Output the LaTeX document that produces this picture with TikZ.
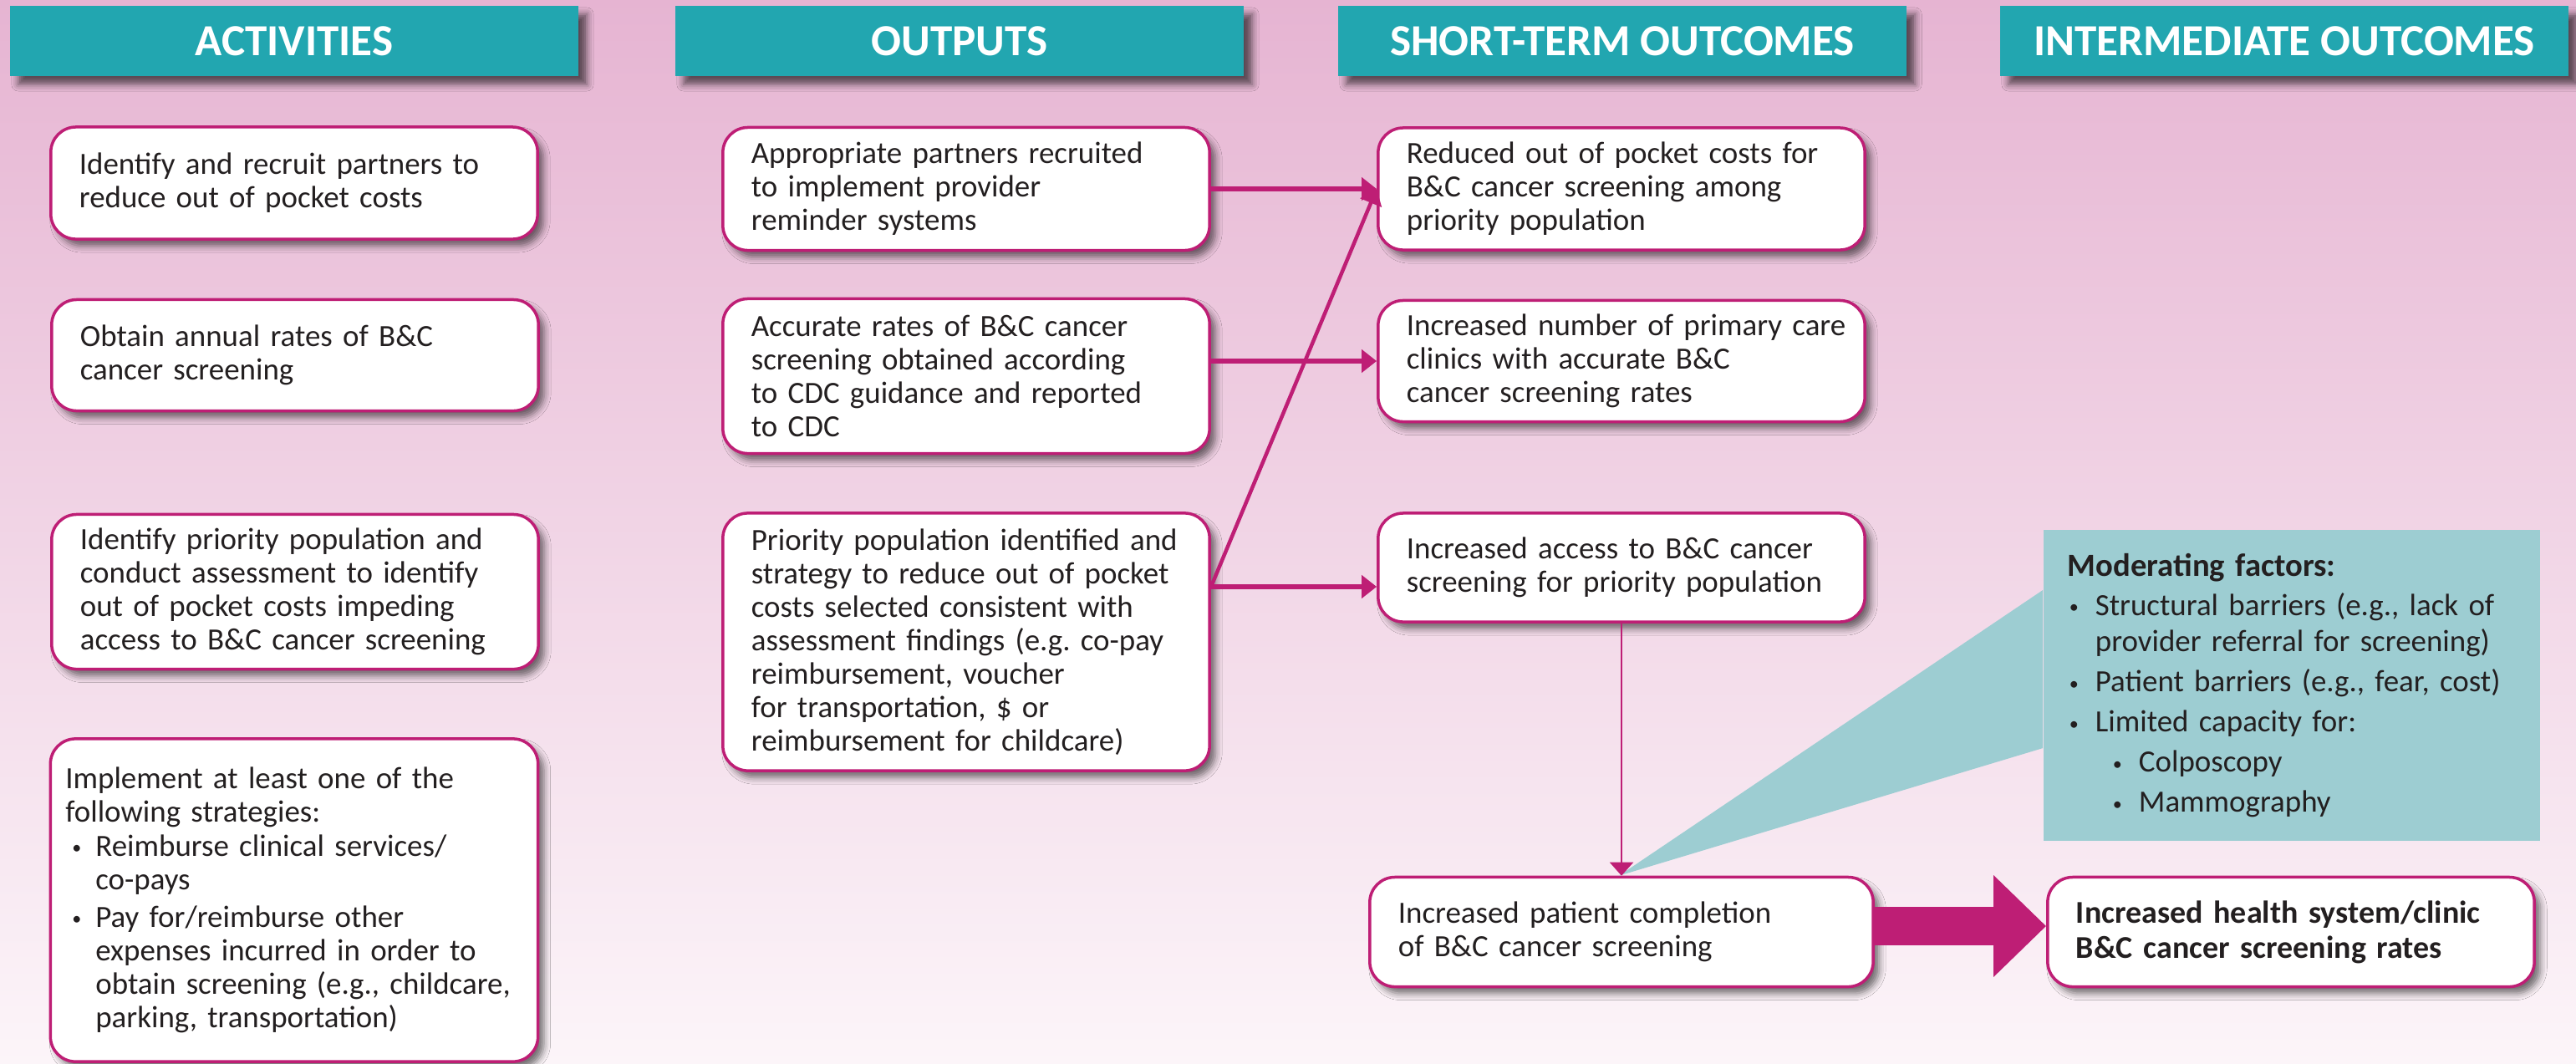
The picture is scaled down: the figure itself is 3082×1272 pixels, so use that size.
\documentclass[tikz,border=0pt]{standalone}
\usepackage{fontspec}
\setmainfont{Carlito}
\usepackage{enumitem}
\usetikzlibrary{arrows.meta, shadows.blur}
\definecolor{berry}{RGB}{190,30,117}
\definecolor{tealhead}{RGB}{34,166,176}
\definecolor{modteal}{RGB}{157,205,210}
\definecolor{bgtop}{RGB}{230,180,210}
\definecolor{bgbot}{RGB}{252,245,249}
\definecolor{ink}{RGB}{35,31,32}
\newcommand{\smallbul}{\raisebox{0.15ex}{\scalebox{0.6}{\textbullet}}}
\tikzset{
    head/.style={fill=tealhead, text=white, minimum width=6.8cm, minimum height=0.84cm, font=\fontsize{15.1}{16}\selectfont\bfseries,
        blur shadow={shadow xshift=0.1cm, shadow yshift=-0.1cm, shadow blur radius=0.08cm, shadow opacity=60}}, % column headers
    box/.style={draw=berry, line width=0.035cm, fill=white, rounded corners=0.3cm, align=left, text=ink, inner xsep=0.34cm, inner ysep=0pt,
        font=\fontsize{10.5}{11.4}\selectfont,
        blur shadow={shadow xshift=0.07cm, shadow yshift=-0.08cm, shadow blur radius=0.08cm, shadow opacity=55}}, % white boxes
    boxw/.style={text width=5.42cm, inner xsep=0.2cm, execute at begin node={\leftskip=0.14cm}}, % usual box width
    modbox/.style={fill=modteal, text=ink, align=left, text width=5.36cm, inner xsep=0.29cm, minimum height=3.72cm,
        font=\fontsize{10.5}{12.5}\selectfont}, % moderating factors
    flow/.style={draw=berry, line width=0.06cm, -{Triangle[length=0.18cm, width=0.27cm]}},
    thin flow/.style={draw=berry, line width=0.02cm, -{Triangle[length=0.16cm, width=0.28cm]}},
    fat flow/.style={draw=berry, line width=0.46cm, -{Triangle[length=0.63cm, width=1.18cm]}}
}

\begin{document}
\begin{tikzpicture}[x=0.01cm, y=-0.01cm]
    \shade[top color=bgtop, bottom color=bgbot] (0,0) rectangle (3082,1272);
    \useasboundingbox (0,0) rectangle (3082,1272);

    % headers
    \node[head] (hact) at (352,49) {ACTIVITIES};
    \node[head] (hout) at (1148,49) {OUTPUTS};
    \node[head] (hst) at (1941,49) {SHORT-TERM OUTCOMES};
    \node[head] (hio) at (2733,49) {INTERMEDIATE OUTCOMES};

    % activities
    \node[box, boxw, minimum height=1.34cm] (act1) at (352,219) {Identify and recruit partners to\\reduce out of pocket costs};
    \node[box, boxw, minimum height=1.33cm] (act2) at (353,425) {Obtain annual rates of B\&C\\cancer screening};
    \node[box, boxw, minimum height=1.85cm] (act3) at (353,708) {Identify priority population and\\conduct assessment to identify\\out of pocket costs impeding\\access to B\&C cancer screening};
    \node[box, text width=5.47cm, inner xsep=0.18cm, minimum height=3.86cm] (act4) at (352,1077) {Implement at least one of the\\following strategies:
        \begin{itemize}[label=\smallbul, leftmargin=0.36cm, labelsep=0.17cm, itemsep=0.05cm, topsep=0pt, parsep=0pt, partopsep=0pt]
        \item Reimburse clinical services/\\co-pays
        \item Pay for/reimburse other\\expenses incurred in order to\\obtain screening (e.g., childcare,\\parking, transportation)
        \end{itemize}};

    % outputs
    \node[box, boxw, minimum height=1.47cm] (out1) at (1156,226) {Appropriate partners recruited\\to implement provider\\reminder systems};
    \node[box, boxw, minimum height=1.85cm] (out2) at (1156,450) {Accurate rates of B\&C cancer\\screening obtained according\\to CDC guidance and reported\\to CDC};
    \node[box, boxw, minimum height=3.08cm] (out3) at (1156,768) {Priority population identified and\\strategy to reduce out of pocket\\costs selected consistent with\\assessment findings (e.g.\ co-pay\\reimbursement, voucher\\for transportation, \$ or\\reimbursement for childcare)};

    % outcomes
    \node[box, boxw, minimum height=1.46cm] (st1) at (1940,226) {Reduced out of pocket costs for\\B\&C cancer screening among\\priority population};
    \node[box, boxw, minimum height=1.45cm] (st2) at (1940,432) {Increased number of primary care\\clinics with accurate B\&C\\cancer screening rates};
    \node[box, boxw, minimum height=1.30cm] (st3) at (1940,679) {Increased access to B\&C cancer\\screening for priority population};
    \node[box, boxw, text width=5.62cm, minimum height=1.31cm] (st4) at (1940,1115) {Increased patient completion\\of B\&C cancer screening};
    \node[box, boxw, minimum height=1.31cm, font=\fontsize{10.8}{12}\selectfont\bfseries] (io) at (2741,1115) {Increased health system/clinic\\B\&C cancer screening rates};

    \node[modbox] (mod) at (2742,820) {{\fontsize{11}{13}\selectfont\bfseries Moderating factors:}
        \begin{itemize}[label=\smallbul, leftmargin=0.33cm, labelsep=0.2cm, itemsep=0.04cm, topsep=0.03cm, parsep=0pt, partopsep=0pt]
        \item Structural barriers (e.g., lack of\\provider referral for screening)
        \item Patient barriers (e.g., fear, cost)
        \item Limited capacity for:
            \begin{itemize}[label=\smallbul, leftmargin=0.52cm, labelsep=0.2cm, itemsep=0.04cm, topsep=0.04cm, parsep=0pt, partopsep=0pt]
            \item Colposcopy
            \item Mammography
            \end{itemize}
        \end{itemize}};
    \fill[modteal] ([yshift=1.14cm]mod.west) -- ([xshift=-0.03cm]st4.north) -- ([yshift=-0.75cm]mod.west) -- cycle;

    % connectors
    \coordinate (fork) at ([yshift=0.66cm]out3.east);
    \draw[flow] (out1.east) -- (st1.west);
    \draw[flow] (st2.west -| out2.east) -- (st2.west);
    \draw[flow] (fork) -- (fork -| st3.west);
    \draw[flow, line width=0.045cm] (fork) -- (st1.west);
    \draw[thin flow] (st3.south) -- (st4.north);
    \draw[fat flow] ([yshift=0.07cm]st4.east) -- ([yshift=0.07cm]io.west);
\end{tikzpicture}
\end{document}
